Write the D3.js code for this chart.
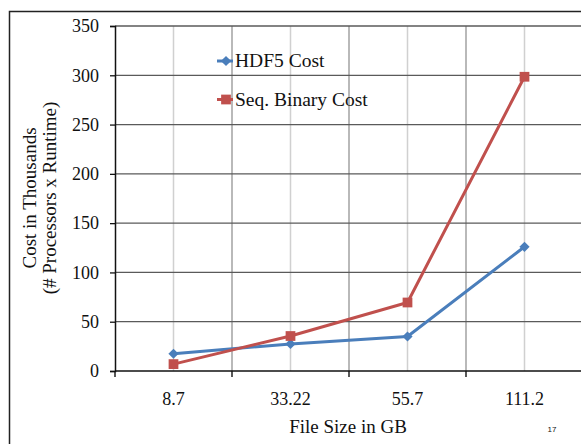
<!DOCTYPE html>
<html>
<head>
<meta charset="utf-8">
<script src="https://cdn.jsdelivr.net/npm/d3@7"></script>
<style>
  body { margin: 0; background: #fff; }
  svg { display: block; }
  text { font-family: "Liberation Serif", "Times New Roman", serif; fill: #111; }
</style>
</head>
<body>
<div id="chart"></div>
<script>
const WIDTH = 581;
const HEIGHT = 444;

const fileSizes = ["8.7", "33.22", "55.7", "111.2"];
const hdf5Cost = [17.5, 27.5, 35, 126];
const seqBinaryCost = [7, 35.5, 69.5, 298.5];
const yTicks = [0, 50, 100, 150, 200, 250, 300, 350];

const margin = { left: 115, top: 26, right: 583, bottom: 371 };

let svg = d3.select("#chart")
    .append("svg")
    .attr("width", WIDTH)
    .attr("height", HEIGHT);

// slide frame
svg.append("path")
    .attr("d", `M9.5,${HEIGHT} V11.5 H${WIDTH}`)
    .attr("fill", "none")
    .attr("stroke", "#222")
    .attr("stroke-width", 1.5);

let x = d3.scaleBand()
    .domain(fileSizes)
    .range([margin.left, margin.right]);

let y = d3.scaleLinear()
    .domain([0, 350])
    .range([margin.bottom, margin.top]);

// light gridlines at category centers
svg.selectAll("line.vcenter")
    .data(fileSizes)
    .enter()
    .append("line")
    .attr("class", "vcenter")
    .attr("x1", d => x(d) + x.bandwidth() / 2)
    .attr("x2", d => x(d) + x.bandwidth() / 2)
    .attr("y1", margin.top)
    .attr("y2", margin.bottom)
    .attr("stroke", "#d0d0d0")
    .attr("stroke-width", 1.5);

// darker gridlines at category boundaries
svg.selectAll("line.vbound")
    .data(fileSizes.slice(1))
    .enter()
    .append("line")
    .attr("class", "vbound")
    .attr("x1", d => x(d))
    .attr("x2", d => x(d))
    .attr("y1", margin.top)
    .attr("y2", margin.bottom)
    .attr("stroke", "#8a8a8a")
    .attr("stroke-width", 1.2);

// horizontal gridlines
svg.selectAll("line.hgrid")
    .data(yTicks.slice(1))
    .enter()
    .append("line")
    .attr("class", "hgrid")
    .attr("x1", margin.left)
    .attr("x2", WIDTH)
    .attr("y1", d => y(d))
    .attr("y2", d => y(d))
    .attr("stroke", "#5a5a5a")
    .attr("stroke-width", 1.3);

// y axis
let yAxis = svg.append("g")
    .attr("transform", `translate(${margin.left},0)`)
    .call(d3.axisLeft(y).tickValues(yTicks).tickSize(5).tickPadding(11));
yAxis.select(".domain").attr("stroke", "#111").attr("stroke-width", 1.5);
yAxis.selectAll(".tick line").attr("stroke", "#111").attr("stroke-width", 1.3);
yAxis.selectAll(".tick text")
    .style("font-family", "Liberation Serif, serif")
    .style("font-size", "18px")
    .attr("fill", "#111");

// x axis: ticks at category boundaries
let xAxis = svg.append("g")
    .attr("transform", `translate(0,${margin.bottom})`);
xAxis.append("line")
    .attr("x1", margin.left)
    .attr("x2", WIDTH)
    .attr("stroke", "#111")
    .attr("stroke-width", 1.6);
xAxis.selectAll("line.xtick")
    .data(fileSizes)
    .enter()
    .append("line")
    .attr("class", "xtick")
    .attr("x1", d => x(d))
    .attr("x2", d => x(d))
    .attr("y1", 0)
    .attr("y2", 6)
    .attr("stroke", "#111")
    .attr("stroke-width", 1.4);
xAxis.selectAll("text")
    .data(fileSizes)
    .enter()
    .append("text")
    .attr("x", d => x(d) + x.bandwidth() / 2)
    .attr("y", 34)
    .attr("text-anchor", "middle")
    .style("font-size", "18px")
    .text(d => d);

// series (diamond = square turned 45 degrees)
const series = [
    { name: "HDF5 Cost", values: hdf5Cost, color: "#4a7ebb", size: 52, rotate: 45 },
    { name: "Seq. Binary Cost", values: seqBinaryCost, color: "#c0504d", size: 95, rotate: 0 }
];

let line = d3.line()
    .x((d, i) => x(fileSizes[i]) + x.bandwidth() / 2)
    .y(d => y(d));

series.forEach(s => {
    svg.append("path")
        .datum(s.values)
        .attr("fill", "none")
        .attr("stroke", s.color)
        .attr("stroke-width", 3)
        .attr("stroke-linejoin", "round")
        .attr("d", line);

    svg.selectAll(null)
        .data(s.values)
        .enter()
        .append("path")
        .attr("d", d3.symbol().type(d3.symbolSquare).size(s.size))
        .attr("transform", (d, i) => `translate(${x(fileSizes[i]) + x.bandwidth() / 2},${y(d)}) rotate(${s.rotate})`)
        .attr("fill", s.color);
});

// legend
let legend = svg.append("g")
    .attr("transform", "translate(217, 61)");

series.forEach((s, i) => {
    let g = legend.append("g").attr("transform", `translate(0, ${i * 38.5})`);
    g.append("line")
        .attr("x1", 0)
        .attr("x2", 16)
        .attr("stroke", s.color)
        .attr("stroke-width", 3);
    g.append("path")
        .attr("d", d3.symbol().type(d3.symbolSquare).size(s.size))
        .attr("transform", `translate(9,0) rotate(${s.rotate})`)
        .attr("fill", s.color);
    g.append("text")
        .attr("x", 18)
        .attr("y", 0)
        .attr("dy", "0.33em")
        .style("font-size", "19.5px")
        .text(s.name);
});

// axis titles
svg.append("text")
    .attr("x", 348)
    .attr("y", 433)
    .attr("text-anchor", "middle")
    .style("font-size", "19px")
    .text("File Size in GB");

let yTitle = svg.append("text")
    .attr("transform", "translate(36, 198) rotate(-90)")
    .attr("text-anchor", "middle")
    .style("font-size", "19px");
yTitle.append("tspan")
    .attr("x", 0)
    .attr("y", 0)
    .text("Cost in Thousands");
yTitle.append("tspan")
    .attr("x", 0)
    .attr("y", 20)
    .text("(# Processors x Runtime)");

// slide number
svg.append("text")
    .attr("x", 552)
    .attr("y", 432)
    .attr("text-anchor", "middle")
    .style("font-family", "Liberation Sans, sans-serif")
    .style("font-size", "8px")
    .attr("fill", "#999")
    .text("17");
</script>
</body>
</html>
